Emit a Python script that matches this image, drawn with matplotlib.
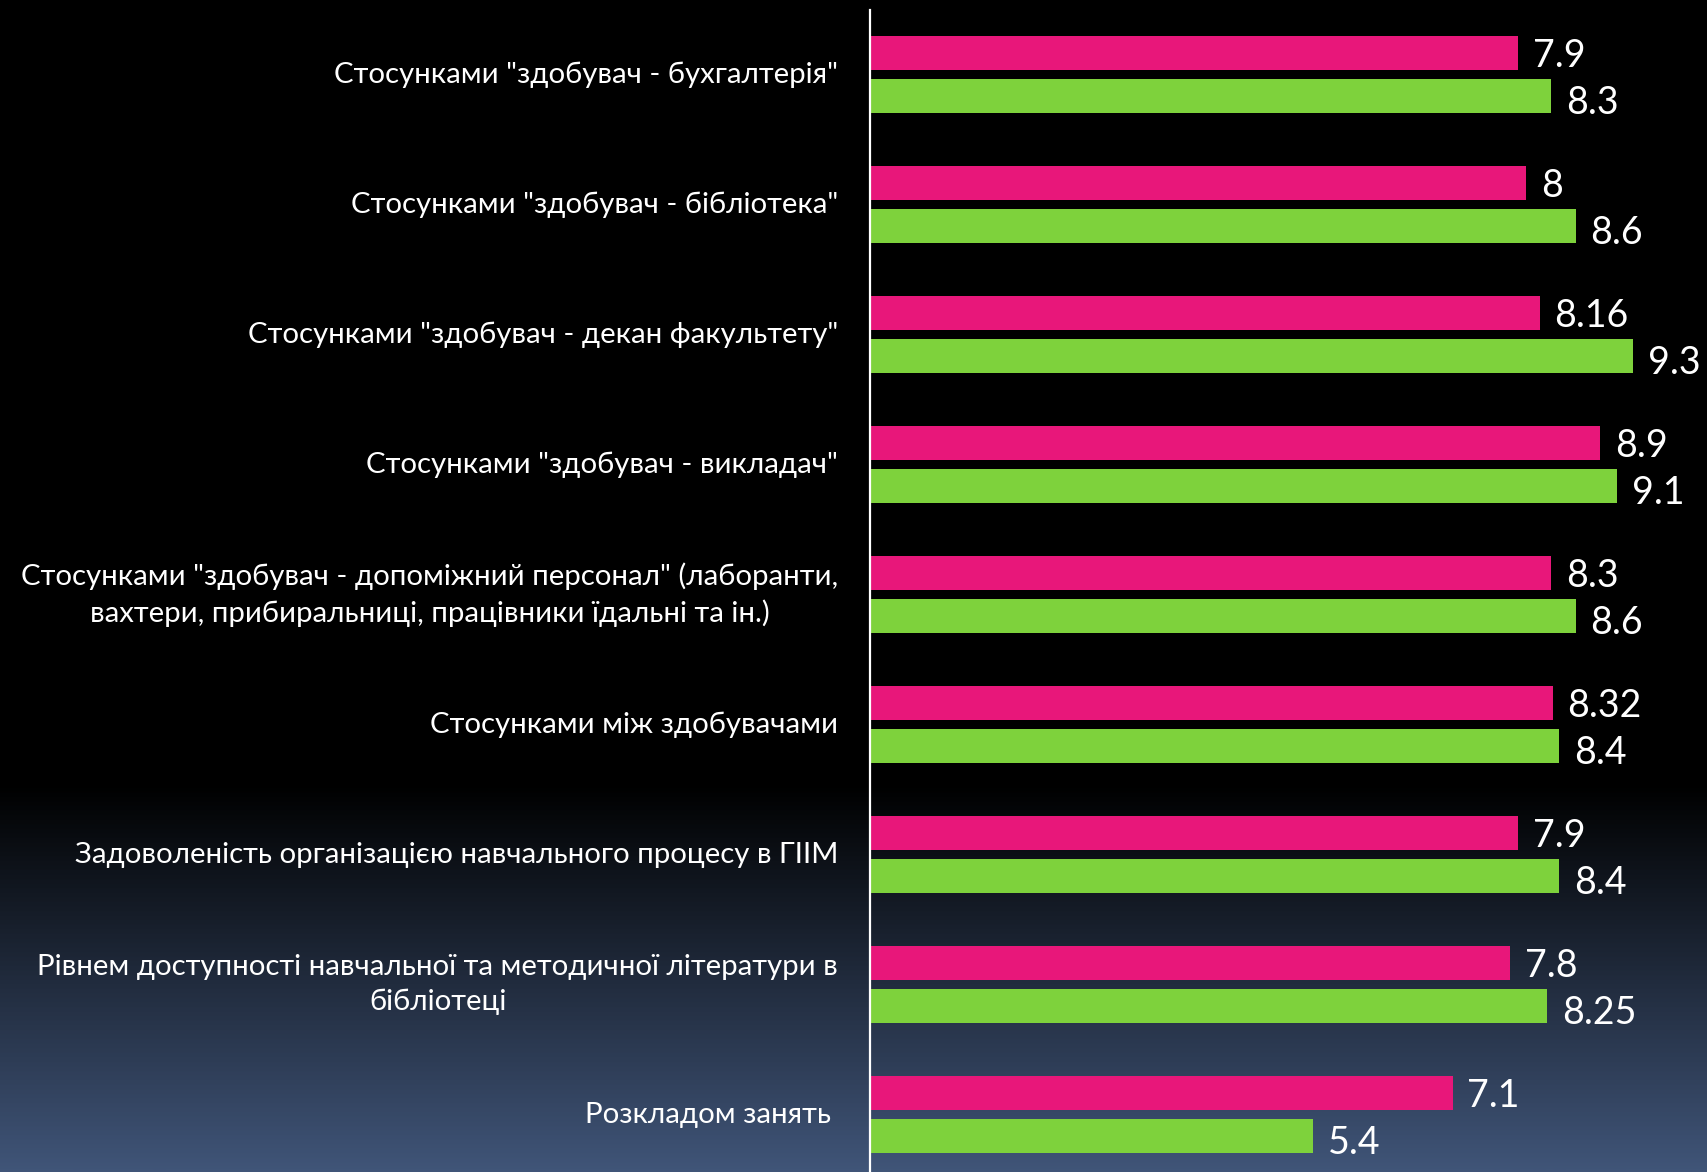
import numpy as np
import matplotlib.pyplot as plt
from matplotlib.colors import LinearSegmentedColormap

# categories, top to bottom
categories = [
    'Стосунками "здобувач - бухгалтерія"',
    'Стосунками "здобувач - бібліотека"',
    'Стосунками "здобувач - декан факультету"',
    'Стосунками "здобувач - викладач"',
    'Стосунками "здобувач - допоміжний персонал" (лаборанти,\nвахтери, прибиральниці, працівники їдальні та ін.)',
    'Стосунками між здобувачами',
    'Задоволеність організацією навчального процесу в ГІІМ',
    'Рівнем доступності навчальної та методичної літератури в\nбібліотеці',
    'Розкладом занять ',
]
pink_vals = [7.9, 8, 8.16, 8.9, 8.3, 8.32, 7.9, 7.8, 7.1]
green_vals = [8.3, 8.6, 9.3, 9.1, 8.6, 8.4, 8.4, 8.25, 5.4]

pink = '#E8177A'
green = '#7ED23C'
font = 'Lato'

fig = plt.figure(figsize=(17.07, 11.72), dpi=100)

# background: black on top, fading to slate blue at the bottom
bg = fig.add_axes([0, 0, 1, 1], zorder=0)
cmap = LinearSegmentedColormap.from_list(
    'bg', [(0.0, '#405578'), (0.33, '#000000'), (1.0, '#000000')])
grad = np.linspace(0, 1, 512).reshape(-1, 1)
bg.imshow(grad, aspect='auto', cmap=cmap, origin='lower', extent=[0, 1, 0, 1])
bg.set_axis_off()

ax = fig.add_axes([0.5097, -0.0065, 0.4903, 0.9983], zorder=1)
ax.patch.set_alpha(0)

y = np.arange(len(categories))
off = 0.167
h = 0.26
ax.barh(y - off, pink_vals, height=h, color=pink)
ax.barh(y + off, green_vals, height=h, color=green)

for yi, v in zip(y, pink_vals):
    ax.text(v + 0.18, yi - off + 0.02, f'{v:g}', color='white', fontsize=27,
            family=font, va='center', ha='left')
for yi, v in zip(y, green_vals):
    ax.text(v + 0.18, yi + off + 0.05, f'{v:g}', color='white', fontsize=27,
            family=font, va='center', ha='left')

ax.set_xlim(0, 10.2)
ax.set_ylim(len(categories) - 0.5, -0.5)
ax.set_yticks(y)
ax.set_yticklabels(categories, color='white', fontsize=21.2, family=font,
                   multialignment='center', linespacing=1.4, va='center')
ax.tick_params(axis='y', length=0, pad=23)
ax.set_xticks([])
for s in ['top', 'right', 'bottom']:
    ax.spines[s].set_visible(False)
ax.spines['left'].set_color('white')
ax.spines['left'].set_linewidth(1.6)

fig.savefig('out.png', dpi=100)
